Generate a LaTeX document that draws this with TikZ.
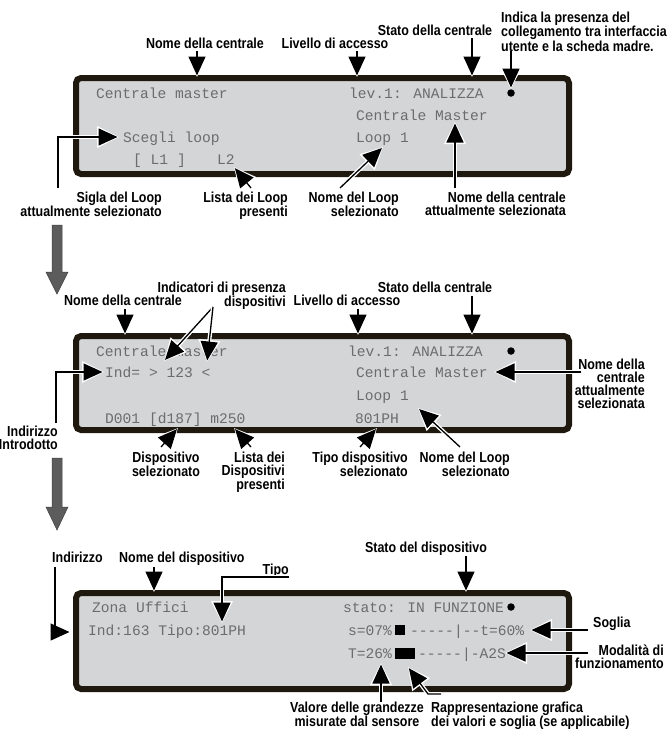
\documentclass[tikz,border=0pt]{standalone}
\usepackage{fontspec}
\usetikzlibrary{arrows.meta}
\newfontfamily\labfam[FakeStretch=0.86]{Liberation Sans}
\newfontfamily\lcdfam{Liberation Mono}
\definecolor{lcdborder}{RGB}{30,24,14}
\definecolor{lcdfill}{RGB}{212,213,215}
\definecolor{lcdtext}{RGB}{108,108,108}
\definecolor{bigarrow}{RGB}{92,92,92}
\newcommand\callout[1]{\draw[halo] #1; \draw[arrline] #1;}
\begin{document}
\begin{tikzpicture}[x=1pt,y=-1pt,
  lbl/.style={font=\labfam\bfseries\fontsize{14.5pt}{13pt}\selectfont, inner sep=0pt},
  lcd/.style={font=\lcdfam\fontsize{14.6pt}{16pt}\selectfont, text=lcdtext, inner sep=0pt, anchor=base west},
  panel/.style={draw=lcdborder, fill=lcdfill, line width=6pt, rounded corners=5pt},
  halo/.style={draw=white, line width=4pt, line join=miter, -{Triangle[length=22pt,width=21pt]}},
  arrline/.style={draw=black, line width=1.3pt, line join=miter, -{Triangle[length=19pt,width=17pt]}, shorten >=1.5pt},
  bigarr/.style={fill=bigarrow, draw=bigarrow!70!black, line width=0.5pt},
  led/.style={circle, fill=black, inner sep=0pt, minimum size=7.5pt}
]
\fill[white] (0,0) rectangle (672,729);
\useasboundingbox (0,0) rectangle (672,729);

% ---------- big gray arrows ----------
\filldraw[bigarr] (52,225) -- (62,225) -- (62,272) -- (68,272) -- (57,294) -- (46,272) -- (52,272) -- cycle;
\filldraw[bigarr] (52,458) -- (62,458) -- (62,507) -- (68,507) -- (57,530) -- (46,507) -- (52,507) -- cycle;

% ---------- panel 1 ----------
\draw[panel] (76,78) rectangle (569,174);
\node[lcd] (p1a) at (96,98) {Centrale master};
\node[lcd] (p1b) at (349,98) {lev.1: ANALIZZA};
\node[led] (p1led) at (511,93) {};
\node[lcd] (p1c) at (356,120) {Centrale Master};
\node[lcd] (p1d) at (123,142) {Scegli loop};
\node[lcd] (p1e) at (356,142) {Loop 1};
\node[lcd] (p1f) at (133,164) {[ L1 ]};
\node[lcd] (p1g) at (217,164) {L2};

\node[lbl, anchor=base] (n1) at (205,48) {Nome della centrale};
\node[lbl, anchor=base] (n2) at (335,48) {Livello di accesso};
\node[lbl, anchor=base] (n3) at (435,35) {Stato della centrale};
\node[lbl, anchor=north west, align=left] (n4) at (501,11.4) {Indica la presenza del\\collegamento tra interfaccia\\utente e la scheda madre.};
\node[lbl, anchor=north east, align=right] (n5) at (162,191.4) {Sigla del Loop\\attualmente selezionato};
\node[lbl, anchor=north east, align=right] (n6) at (288,191.4) {Lista dei Loop\\presenti};
\node[lbl, anchor=north east, align=right] (n7) at (399,191.4) {Nome del Loop\\selezionato};
\node[lbl, anchor=north east, align=right] (n8) at (566,191.4) {Nome della centrale\\attualmente selezionata};

\coordinate (a1s) at (197,51);  \coordinate (a1t) at (197,77);
\coordinate (a2s) at (357,51);  \coordinate (a2t) at (357,77);
\coordinate (a3s) at (472,38);  \coordinate (a3t) at (472,77);
\coordinate (a4s) at (511,51);  \coordinate (a4t) at (511,89);
\coordinate (a5s) at (58,188);  \coordinate (a5c) at (58,137); \coordinate (a5t) at (119,137);
\coordinate (a6s) at (251,188); \coordinate (a6t) at (234,167);
\coordinate (a7s) at (340,188); \coordinate (a7t) at (383,147);
\coordinate (a8s) at (455,188); \coordinate (a8t) at (455,122);
\callout{(a1s) -- (a1t)}
\callout{(a2s) -- (a2t)}
\callout{(a3s) -- (a3t)}
\callout{(a4s) -- (a4t)}
\callout{(a5s) -- (a5c) -- (a5t)}
\callout{(a6s) -- (a6t)}
\callout{(a7s) -- (a7t)}
\callout{(a8s) -- (a8t)}

% ---------- panel 2 ----------
\draw[panel] (76,336) rectangle (569,430);
\node[lcd] (p2a) at (96,356) {Centrale master};
\node[lcd] (p2b) at (348,356) {lev.1: ANALIZZA};
\node[led] (p2led) at (511,351) {};
\node[lcd] (p2c) at (105,377) {Ind= > 123 <};
\node[lcd] (p2d) at (356,377) {Centrale Master};
\node[lcd] (p2e) at (356,400) {Loop 1};
\node[lcd] (p2f) at (105,423) {D001 [d187] m250};
\node[lcd] (p2g) at (355,423) {801PH};

\node[lbl, anchor=north east, align=right] (m1) at (286,281.4) {Indicatori di presenza\\dispositivi};
\node[lbl, anchor=base] (m2) at (123,305) {Nome della centrale};
\node[lbl, anchor=base] (m3) at (347,305) {Livello di accesso};
\node[lbl, anchor=base] (m4) at (435,292) {Stato della centrale};
\node[lbl, anchor=north east, align=right] (m5) at (645,358.4) {Nome della\\centrale\\attualmente\\selezionata};
\node[lbl, anchor=north east, align=right] (m6) at (58,425.4) {Indirizzo\\Introdotto};
\node[lbl, anchor=north, align=center] (m7) at (166,451.4) {Dispositivo\\selezionato};
\node[lbl, anchor=north east, align=right] (m8) at (285,451.4) {Lista dei\\Dispositivi\\presenti};
\node[lbl, anchor=north east, align=right] (m9) at (408,451.4) {Tipo dispositivo\\selezionato};
\node[lbl, anchor=north east, align=right] (m10) at (510,451.4) {Nome del Loop\\selezionato};

\coordinate (b1s) at (213,307); \coordinate (b1t) at (164,361); \coordinate (b2t) at (207,362);
\coordinate (b3s) at (125,309); \coordinate (b3t) at (125,335);
\coordinate (b4s) at (358,309); \coordinate (b4t) at (358,335);
\coordinate (b5s) at (472,296); \coordinate (b5t) at (472,335);
\coordinate (b6s) at (581,372); \coordinate (b6t) at (494,372);
\coordinate (b7s) at (56,423);  \coordinate (b7c) at (56,372); \coordinate (b7t) at (104,372);
\coordinate (b8s) at (161,447); \coordinate (b8t) at (178,428);
\coordinate (b9s) at (251,447); \coordinate (b9t) at (234,428);
\coordinate (b10s) at (360,447); \coordinate (b10t) at (377,428);
\coordinate (b11s) at (460,447); \coordinate (b11t) at (418,408);
\callout{(b1s) -- (b1t)}
\callout{(b1s) -- (b2t)}
\callout{(b3s) -- (b3t)}
\callout{(b4s) -- (b4t)}
\callout{(b5s) -- (b5t)}
\callout{(b6s) -- (b6t)}
\callout{(b7s) -- (b7c) -- (b7t)}
\callout{(b8s) -- (b8t)}
\callout{(b9s) -- (b9t)}
\callout{(b10s) -- (b10t)}
\callout{(b11s) -- (b11t)}

% ---------- panel 3 ----------
\draw[panel] (76,593) rectangle (569,689);
\node[lcd] (p3a) at (92,612) {Zona Uffici};
\node[lcd] (p3b) at (343,612) {stato: IN FUNZIONE};
\node[led] (p3led) at (511,607) {};
\node[lcd] (p3c) at (88,635) {Ind:163 Tipo:801PH};
\node[lcd] (p3d) at (348,635) {s=07\%};
\fill[black] (395,625) rectangle (405,635);
\node[lcd] (p3e) at (410,635) {-----|--t=60\%};
\node[lcd] (p3f) at (348,658) {T=26\%};
\fill[black] (395,648) rectangle (415,659);
\node[lcd] (p3g) at (418,658) {-----|-A2S};

\node[lbl, anchor=base west] (k1) at (52,562) {Indirizzo};
\node[lbl, anchor=base west] (k2) at (119,562) {Nome del dispositivo};
\node[lbl, anchor=base east] (k3) at (289,574) {Tipo};
\node[lbl, anchor=base] (k4) at (426,552) {Stato del dispositivo};
\node[lbl, anchor=base west] (k5) at (593,627) {Soglia};
\node[lbl, anchor=north east, align=right] (k6) at (664,644.4) {Modalità di\\funzionamento};
\node[lbl, anchor=north, align=center] (k7) at (357,701.4) {Valore delle grandezze\\misurate dal sensore};
\node[lbl, anchor=north west, align=left] (k8) at (431,701.4) {Rappresentazione grafica\\dei valori e soglia (se applicabile)};

\coordinate (c1s) at (55,567);  \coordinate (c1c) at (55,632); \coordinate (c1t) at (71,632);
\coordinate (c2s) at (154,567); \coordinate (c2t) at (154,592);
\coordinate (c3s) at (289,577); \coordinate (c3c) at (222,577); \coordinate (c3t) at (222,623);
\coordinate (c4s) at (466,556); \coordinate (c4t) at (466,592);
\coordinate (c5s) at (588,630); \coordinate (c5t) at (530,630);
\coordinate (c6s) at (588,653); \coordinate (c6t) at (505,653);
\coordinate (c7s) at (381,702); \coordinate (c7t) at (381,663);
\coordinate (c8s) at (441,694); \coordinate (c8c) at (428,694); \coordinate (c8t) at (408,667);
\callout{(c1s) -- (c1c) -- (c1t)}
\callout{(c2s) -- (c2t)}
\callout{(c3s) -- (c3c) -- (c3t)}
\callout{(c4s) -- (c4t)}
\callout{(c5s) -- (c5t)}
\callout{(c6s) -- (c6t)}
\callout{(c7s) -- (c7t)}
\callout{(c8s) -- (c8c) -- (c8t)}
\end{tikzpicture}
\end{document}
